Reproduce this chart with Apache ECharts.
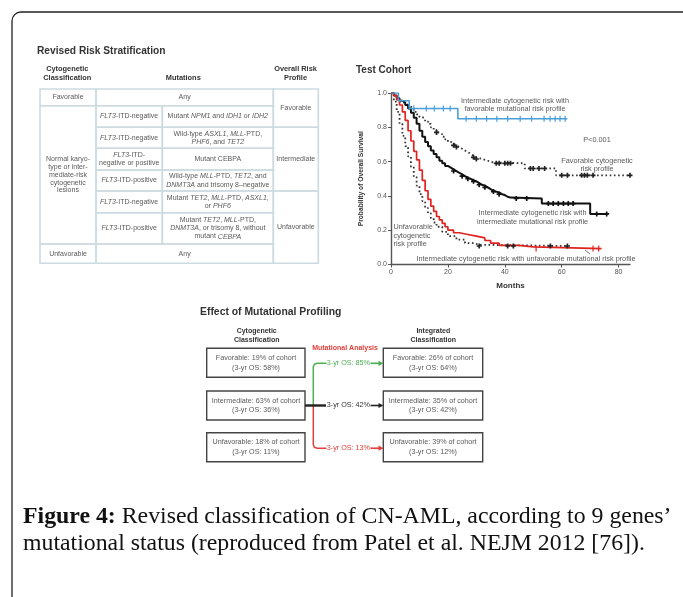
<!DOCTYPE html>
<html>
<head>
<meta charset="utf-8">
<script src="https://cdn.jsdelivr.net/npm/echarts@6/dist/echarts.min.js"></script>
<style>
  html, body { margin: 0; padding: 0; background: #fff; }
  #main { width: 683px; height: 597px; }
</style>
</head>
<body>
<div id="main"></div>
<script>
// ---- Kaplan-Meier data, [months, probability] ----
const favMutCurve = [[0, 1], [2.6, 0.955], [6.4, 0.91], [23.5, 0.85], [62, 0.85]]
const favMutCensor = [[8, 0.91], [12.4, 0.91], [15.2, 0.91], [18.4, 0.91], [20.8, 0.91],
  [26.4, 0.85], [30, 0.85], [33.6, 0.85], [37.2, 0.85], [41, 0.85], [45.4, 0.85], [49.4, 0.85],
  [53.8, 0.85], [55.9, 0.85], [57.7, 0.85], [59.4, 0.85], [61.2, 0.85]]

const favCytoCurve = [[0, 1], [1, 0.98], [2, 0.965], [3, 0.95], [4, 0.94], [5, 0.93], [6, 0.92],
  [7, 0.91], [8, 0.89], [9, 0.875], [10, 0.86], [11, 0.85], [12, 0.835], [13, 0.82], [14, 0.8],
  [15, 0.785], [16, 0.77], [17, 0.76], [18, 0.745], [19, 0.73], [20, 0.715], [21, 0.705],
  [22, 0.695], [23, 0.685], [24, 0.675], [25, 0.665], [26, 0.655], [27, 0.645], [28, 0.635],
  [29, 0.625], [30, 0.615], [32, 0.605], [34, 0.595], [36, 0.59], [47, 0.56], [58, 0.52], [84, 0.52]]
const favCytoCensor = [[16, 0.77], [22, 0.695], [23, 0.685], [29, 0.625], [30, 0.615], [37, 0.59],
  [38, 0.59], [40, 0.59], [41, 0.59], [42, 0.59], [49, 0.56], [50, 0.56], [52, 0.56], [54, 0.56],
  [60, 0.52], [62, 0.52], [67, 0.52], [68, 0.52], [69, 0.52], [71, 0.52], [84, 0.52]]

const intMutCurve = [[0, 1], [1, 0.985], [2, 0.97], [3, 0.955], [4, 0.945], [5, 0.93], [6, 0.91],
  [7, 0.885], [8, 0.855], [9, 0.82], [10, 0.78], [11, 0.745], [12, 0.715], [13, 0.69], [14, 0.665],
  [15, 0.645], [16, 0.625], [17, 0.605], [18, 0.59], [19, 0.575], [20, 0.565], [21, 0.555],
  [22, 0.545], [23, 0.535], [24, 0.525], [25, 0.515], [26, 0.505], [27, 0.5], [28, 0.49],
  [29, 0.485], [30, 0.475], [31, 0.465], [32, 0.46], [33, 0.45], [34, 0.44], [35, 0.43],
  [36, 0.425], [37, 0.42], [38, 0.41], [39, 0.405], [40, 0.395], [41, 0.39], [42, 0.385],
  [53, 0.355], [70, 0.295], [76, 0.295]]
const intMutCensor = [[22, 0.545], [25, 0.515], [27, 0.5], [29, 0.485], [31, 0.465], [33, 0.45],
  [36, 0.425], [38, 0.41], [44, 0.385], [47.7, 0.385], [55.3, 0.355], [57, 0.355], [58.8, 0.355],
  [60.6, 0.355], [62.3, 0.355], [64, 0.355], [72.3, 0.295], [75.8, 0.295]]

const unfMutCurve = [[0, 1], [1, 0.985], [2, 0.96], [3, 0.93], [4, 0.89], [5, 0.84], [6, 0.78],
  [7, 0.72], [8, 0.66], [9, 0.61], [10, 0.55], [11, 0.49], [12, 0.43], [13, 0.38], [14, 0.34],
  [15, 0.31], [16, 0.28], [17, 0.26], [18, 0.24], [19, 0.22], [20, 0.2], [22, 0.185], [24, 0.175],
  [27, 0.165], [30, 0.155], [33, 0.14], [35, 0.125], [38, 0.112], [45, 0.103], [50, 0.093], [74, 0.093]]
const unfMutCensor = [[51, 0.093], [71, 0.093], [73, 0.093]]

const unfCytoCurve = [[0, 1], [1, 0.95], [2, 0.89], [3, 0.82], [4, 0.75], [5, 0.69], [6, 0.63],
  [7, 0.57], [8, 0.51], [9, 0.46], [10, 0.41], [11, 0.37], [12, 0.33], [13, 0.3], [14, 0.27],
  [15, 0.245], [16, 0.22], [18, 0.19], [20, 0.165], [23, 0.145], [26, 0.125], [29, 0.115],
  [31, 0.108], [62, 0.108]]
const unfCytoCensor = [[31, 0.108], [41, 0.108], [43, 0.108], [56, 0.108], [62, 0.108]]

const xTickValues = [0, 20, 40, 60, 80]

// ---- table text ----
const tableHeaders = ['Cytogenetic\nClassification', 'Mutations', 'Overall Risk\nProfile']
const cytoClasses = ['Favorable', 'Normal karyo-\ntype or inter-\nmediate-risk\ncytogenetic\nlesions', 'Unfavorable']
const anyLabel = 'Any'
const flt3Status = ['{i|FLT3}-ITD-negative', '{i|FLT3}-ITD-negative', '{i|FLT3}-ITD-\nnegative or positive',
  '{i|FLT3}-ITD-positive', '{i|FLT3}-ITD-negative', '{i|FLT3}-ITD-positive']
const mutationRules = [
  'Mutant {i|NPM1} and {i|IDH1} or {i|IDH2}',
  'Wild-type {i|ASXL1}, {i|MLL}-PTD,\n{i|PHF6}, and {i|TET2}',
  'Mutant CEBPA',
  'Wild-type {i|MLL}-PTD, {i|TET2}, and\n{i|DNMT3A} and trisomy 8–negative',
  'Mutant {i|TET2}, {i|MLL}-PTD, {i|ASXL1},\nor {i|PHF6}',
  'Mutant {i|TET2}, {i|MLL}-PTD,\n{i|DNMT3A}, or trisomy 8, without\nmutant {i|CEBPA}'
]
const riskProfiles = ['Favorable', 'Intermediate', 'Unfavorable']

// ---- flow diagram text ----
const cytoBoxes = [['Favorable: 19% of cohort', '(3-yr OS: 58%)'],
  ['Intermediate: 63% of cohort', '(3-yr OS: 36%)'],
  ['Unfavorable: 18% of cohort', '(3-yr OS: 11%)']]
const integratedBoxes = [['Favorable: 26% of cohort', '(3-yr OS: 64%)'],
  ['Intermediate: 35% of cohort', '(3-yr OS: 42%)'],
  ['Unfavorable: 39% of cohort', '(3-yr OS: 12%)']]
const mutationOS = ['3-yr OS: 85%', '3-yr OS: 42%', '3-yr OS: 13%']

const SANS = 'Liberation Sans, Arial, sans-serif'
const SERIF = 'Liberation Serif, Times New Roman, serif'
const GRAY = '#5a5a5a'

function txt(text, x, y, size, o) {
  o = o || {}
  const color = o.color || GRAY
  const style = {
    text: text, x: x, y: y,
    fontSize: size, fontFamily: o.family || SANS,
    fontWeight: o.bold ? 'bold' : 'normal',
    fill: color,
    textAlign: o.align || 'center',
    textVerticalAlign: 'middle',
    lineHeight: o.lh || size * 1.2
  }
  if (o.rich) style.rich = o.rich
  return { type: 'text', z: 20, silent: true, style: style }
}
function italicRich(size, lh) {
  return { i: { fontStyle: 'italic', fontSize: size, fontFamily: SANS, fill: GRAY, textFill: GRAY, lineHeight: lh } }
}
function box(x, y, w, h, stroke, lw) {
  return { type: 'rect', z: 5, silent: true, shape: { x: x, y: y, width: w, height: h },
    style: { fill: 'none', stroke: stroke, lineWidth: lw } }
}
function seg(points, color, lw) {
  return { type: 'polyline', z: 6, silent: true, shape: { points: points },
    style: { fill: 'none', stroke: color, lineWidth: lw } }
}

const graphics = []

// outer frame
graphics.push({ type: 'rect', z: 1, silent: true, shape: { x: 12, y: 12, width: 680, height: 600, r: 9 },
  style: { fill: 'none', stroke: '#222', lineWidth: 1.3 } })

// ---- table ----
graphics.push(txt('Revised Risk Stratification', 37, 51.2, 10.2, { bold: true, color: '#333', align: 'left' }))
const colX = [40, 96, 162.3, 273.3, 318.3]
const rowY = [89, 105.7, 127.3, 148.3, 170, 191, 212.7, 244, 263.3]
const TB = '#cddbe1'
const TS = 7
const TLH = 8.2
const tcell = (c0, c1, r0, r1) => box(colX[c0], rowY[r0], colX[c1] - colX[c0], rowY[r1] - rowY[r0], TB, 1.6)
const cx = (c0, c1) => (colX[c0] + colX[c1]) / 2
const cy = (r0, r1) => (rowY[r0] + rowY[r1]) / 2

graphics.push(txt(tableHeaders[0], 67.3, 73.3, 7.4, { bold: true, color: '#333', lh: 8.6 }))
graphics.push(txt(tableHeaders[1], 183.3, 78, 7.4, { bold: true, color: '#333' }))
graphics.push(txt(tableHeaders[2], 295.5, 73.3, 7.4, { bold: true, color: '#333', lh: 8.6 }))

const cytoRows = [[0, 1], [1, 7], [7, 8]]
cytoRows.forEach((r, i) => {
  graphics.push(tcell(0, 1, r[0], r[1]))
  graphics.push(txt(cytoClasses[i], cx(0, 1), cy(r[0], r[1]), TS, { lh: 7.8 }))
})
;[[0, 1], [7, 8]].forEach(r => {
  graphics.push(tcell(1, 3, r[0], r[1]))
  graphics.push(txt(anyLabel, cx(1, 3), cy(r[0], r[1]), TS))
})
flt3Status.forEach((s, i) => {
  graphics.push(tcell(1, 2, i + 1, i + 2))
  graphics.push(txt(s, cx(1, 2), cy(i + 1, i + 2), TS, { rich: italicRich(TS, TLH), lh: TLH }))
  graphics.push(tcell(2, 3, i + 1, i + 2))
  graphics.push(txt(mutationRules[i], cx(2, 3), cy(i + 1, i + 2), TS, { rich: italicRich(TS, TLH), lh: TLH }))
})
const riskRows = [[0, 2], [2, 5], [5, 8]]
riskRows.forEach((r, i) => {
  graphics.push(tcell(3, 4, r[0], r[1]))
  graphics.push(txt(riskProfiles[i], cx(3, 4), cy(r[0], r[1]), TS))
})

// ---- Kaplan-Meier annotations ----
const AS = 7.3
graphics.push(txt('Test Cohort', 356, 70, 10, { bold: true, color: '#333', align: 'left' }))
graphics.push(txt('Intermediate cytogenetic risk with\nfavorable mutational risk profile', 515, 105, AS, { lh: 8.4 }))
graphics.push(txt('P<0.001', 597, 140, AS))
graphics.push(txt('Favorable cytogenetic\nrisk profile', 597, 164.5, AS, { lh: 8 }))
graphics.push(txt('Intermediate cytogenetic risk with\nintermediate mutational risk profile', 532.5, 217.2, AS, { lh: 9 }))
graphics.push(txt('Unfavorable\ncytogenetic\nrisk profile', 393.5, 235.6, AS, { lh: 8.6, align: 'left' }))
graphics.push(txt('Intermediate cytogenetic risk with unfavorable mutational risk profile', 526, 259.3, AS))
graphics.push(seg([[585, 250], [590, 254]], '#555', 0.8))

// ---- flow diagram ----
const FS = 7.2
graphics.push(txt('Effect of Mutational Profiling', 200, 311.7, 10.4, { bold: true, color: '#333', align: 'left' }))
graphics.push(txt('Cytogenetic\nClassification', 256.7, 335.5, 7, { bold: true, color: '#333', lh: 9 }))
graphics.push(txt('Integrated\nClassification', 433.3, 335.5, 7, { bold: true, color: '#333', lh: 9 }))
graphics.push(txt('Mutational Analysis', 345, 347.7, 7, { bold: true, color: '#e2403a' }))

const boxRows = [362.8, 405.5, 447.2]
const BH = 29
boxRows.forEach((yc, i) => {
  graphics.push(box(206.7, yc - BH / 2, 98.3, BH, '#444', 1.4))
  graphics.push(txt(cytoBoxes[i][0], 256, yc - 4.8, FS))
  graphics.push(txt(cytoBoxes[i][1], 256, yc + 4.8, FS))
  graphics.push(box(383.3, yc - BH / 2, 99.4, BH, '#444', 1.4))
  graphics.push(txt(integratedBoxes[i][0], 433, yc - 4.8, FS))
  graphics.push(txt(integratedBoxes[i][1], 433, yc + 4.8, FS))
})
const flowColors = ['#4cb050', '#222', '#e2403a']
// bracket from the intermediate box
graphics.push(seg([[313.3, 405.5], [313.3, 367], [314.3, 364.3], [317, 363.3], [326.5, 363.3]], flowColors[0], 1.5))
graphics.push(seg([[313.3, 405.5], [313.3, 444.5], [314.3, 447.2], [317, 448.2], [326.5, 448.2]], flowColors[2], 1.5))
graphics.push(seg([[305, 405.5], [326, 405.5]], flowColors[1], 2.4))
const arrowY = [363.3, 405.5, 448.2]
arrowY.forEach((y, i) => {
  graphics.push(txt(mutationOS[i], 348.4, y, FS, { color: i === 1 ? '#333' : flowColors[i] }))
  graphics.push(seg([[370.5, y], [379.5, y]], flowColors[i], 1.6))
  graphics.push({ type: 'polygon', z: 6, silent: true,
    shape: { points: [[378.5, y - 2.6], [383.5, y], [378.5, y + 2.6]] }, style: { fill: flowColors[i] } })
})

// ---- caption ----
const CS = 23.8
graphics.push(txt('{b|Figure 4:} Revised classification of CN-AML, according to 9 genes’', 23, 517, CS,
  { family: SERIF, color: '#111', align: 'left',
    rich: { b: { fontWeight: 'bold', fontSize: CS, fontFamily: SERIF, fill: '#111', textFill: '#111' } } }))
graphics.push(txt('mutational status (reproduced from Patel et al. NEJM 2012 [76]).', 23, 543.5, CS,
  { family: SERIF, color: '#111', align: 'left' }))

const plusSym = 'path://M2,0h2v2h2v2h-2v2h-2v-2h-2v-2h2z'

function kmLine(data, color, width, type) {
  return { type: 'line', step: 'end', data: data, symbol: 'none', z: 3, silent: true,
    lineStyle: { color: color, width: width, type: type || 'solid' } }
}
function censor(data, color, symbol, size) {
  return { type: 'scatter', data: data, symbol: symbol, symbolSize: size, z: 4, silent: true,
    itemStyle: { color: color, opacity: 1 } }
}

const mChart = echarts.init(document.getElementById('main'), null, { renderer: 'canvas' })
const option = {
  animation: false,
  backgroundColor: '#fff',
  grid: { left: 391, top: 93, width: 239, height: 171.5 },
  xAxis: {
    type: 'value', min: 0, max: 84,
    name: 'Months', nameLocation: 'middle', nameGap: 17,
    nameTextStyle: { fontSize: 8, fontWeight: 'bold', color: '#333', fontFamily: SANS },
    axisLine: { show: true, lineStyle: { color: '#555', width: 1.4 } },
    axisTick: { show: true, length: 3, customValues: xTickValues, lineStyle: { color: '#555' } },
    axisLabel: { customValues: xTickValues, fontSize: 7, color: '#555', margin: 4, fontFamily: SANS },
    splitLine: { show: false }
  },
  yAxis: {
    type: 'value', min: 0, max: 1, interval: 0.2,
    name: 'Probability of Overall Survival', nameLocation: 'middle', nameGap: 26, nameRotate: 90,
    nameTextStyle: { fontSize: 6.7, fontWeight: 'bold', color: '#333', fontFamily: SANS },
    axisLine: { show: true, lineStyle: { color: '#555', width: 1.4 } },
    axisTick: { show: true, length: 3, lineStyle: { color: '#555' } },
    axisLabel: { fontSize: 7, color: '#555', margin: 4, fontFamily: SANS, formatter: v => v.toFixed(1) },
    splitLine: { show: false }
  },
  series: [
    kmLine(favCytoCurve, '#333', 1.8, [1.6, 2.6]),
    kmLine(unfCytoCurve, '#333', 1.8, [1.6, 2.6]),
    kmLine(intMutCurve, '#111', 2),
    kmLine(unfMutCurve, '#e0221f', 1.7),
    kmLine(favMutCurve, '#4a9fd8', 1.6),
    censor(favCytoCensor, '#222', plusSym, 5),
    censor(unfCytoCensor, '#222', plusSym, 5),
    censor(intMutCensor, '#111', plusSym, 5),
    censor(unfMutCensor, '#e0221f', 'rect', [1.2, 6]),
    censor(favMutCensor, '#4a9fd8', 'rect', [1.2, 6])
  ],
  graphic: { elements: graphics }
}
mChart.setOption(option)
</script>
</body>
</html>
